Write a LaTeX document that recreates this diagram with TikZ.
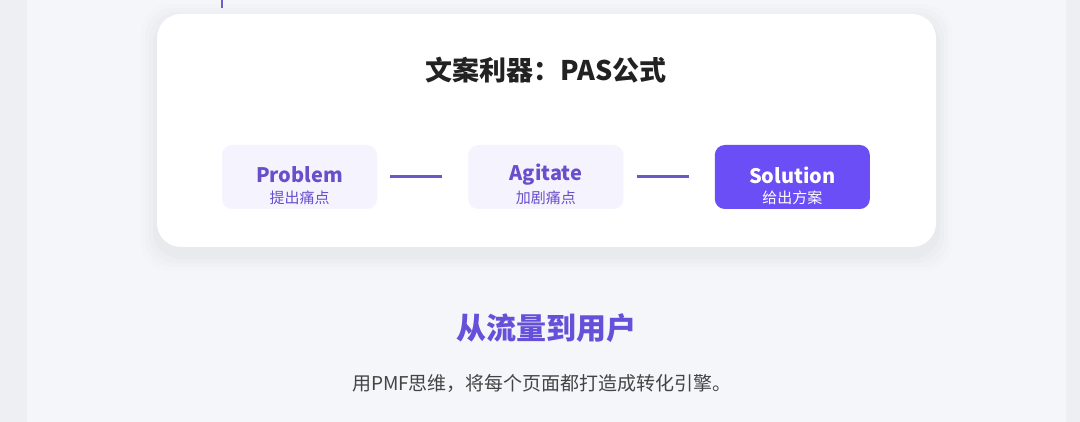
\documentclass[tikz,border=0pt]{standalone}
\usepackage{fontspec}
\setmainfont{Noto Sans CJK SC}
\usetikzlibrary{positioning}

\definecolor{edgebg}{HTML}{EEEFF3}
\definecolor{pagebg}{HTML}{F5F6FA}
\definecolor{softbox}{HTML}{F5F3FE}
\definecolor{deepviolet}{HTML}{6B4EF5}
\definecolor{violettext}{HTML}{6A4FCB}
\definecolor{linkviolet}{HTML}{6A5AC8}
\definecolor{headtext}{HTML}{6650DA}
\definecolor{darktext}{HTML}{222222}
\definecolor{greytext}{HTML}{444444}

\tikzset{
  stagebox/.style={minimum width=155pt, minimum height=64pt, rounded corners=10pt, inner sep=0pt},
  stagename/.style={font=\fontsize{20}{23}\selectfont\bfseries, inner sep=0pt},
  stagesub/.style={font=\fontsize{15}{17}\selectfont, inner sep=0pt},
  link/.style={linkviolet, line width=3pt}
}

\begin{document}
\begin{tikzpicture}[x=1pt,y=-1pt]
        % page background
        \fill[edgebg] (0,0) rectangle (1080,422);
        \fill[pagebg] (27,0) rectangle (1066,422);
        \useasboundingbox (0,0) rectangle (1080,422);
        \fill[deepviolet!70!gray] (221.2,0) rectangle (223.2,8);
        % card with soft shadow
        \foreach \s/\o in {16/0.008,12/0.01,8/0.012,4/0.015}
          \fill[black,opacity=\o,rounded corners=28pt] (157-\s,14+6-\s) rectangle (936+\s,247+8+\s);
        \fill[white,rounded corners=24pt] (157,14) rectangle (936,247);
        \node[font=\fontsize{27}{30}\selectfont\bfseries,text=darktext] (title) at (546,70) {文案利器：PAS公式};
        % the three stages
        \node[stagebox,fill=softbox] (problem) at (299.5,177) {};
        \node[stagebox,fill=softbox,right=91pt of problem] (agitate) {};
        \node[stagebox,fill=deepviolet,right=91pt of agitate] (solution) {};
        \node[stagename,text=violettext] (problemname) at ([yshift=2]problem.center) {Problem};
        \node[stagesub,text=violettext] (problemsub) at ([yshift=-21]problem.center) {提出痛点};
        \node[stagename,text=violettext] (agitatename) at ([yshift=2]agitate.center) {Agitate};
        \node[stagesub,text=violettext] (agitatesub) at ([yshift=-21]agitate.center) {加剧痛点};
        \node[stagename,text=white] (solutionname) at ([yshift=2]solution.center) {Solution};
        \node[stagesub,text=white] (solutionsub) at ([yshift=-21]solution.center) {给出方案};
        \draw[link] ([xshift=13pt]problem.east) -- ([xshift=-26pt]agitate.west);
        \draw[link] ([xshift=13pt]agitate.east) -- ([xshift=-26pt]solution.west);
        % heading below the card
        \node[font=\fontsize{30}{34}\selectfont\bfseries,text=headtext] (heading) at (546,328) {从流量到用户};
        \node[font=\fontsize{19}{22}\selectfont,text=greytext] (tagline) at (542,383) {用PMF思维，将每个页面都打造成转化引擎。};
\end{tikzpicture}
\end{document}
